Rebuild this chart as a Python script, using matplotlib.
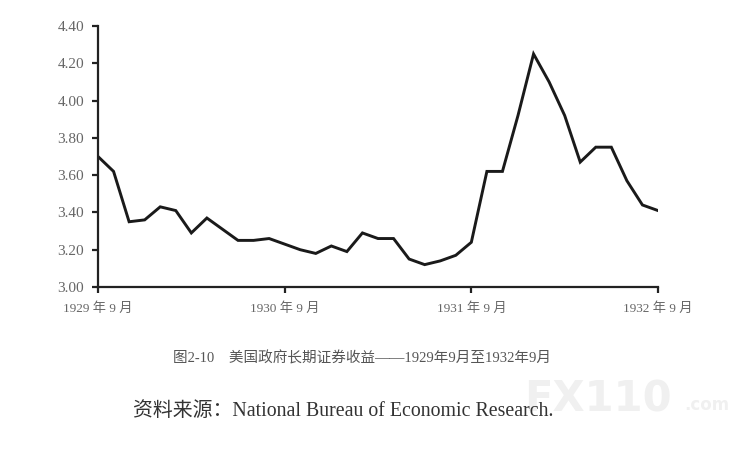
import matplotlib
matplotlib.use("Agg")
import matplotlib.pyplot as plt
import numpy as np

# monthly yield, 1929-09 .. 1932-09
yields = [3.70, 3.62, 3.35, 3.36, 3.43, 3.41, 3.29, 3.37, 3.31, 3.25,
          3.25, 3.26, 3.23, 3.20, 3.18, 3.22, 3.19, 3.29, 3.26, 3.26,
          3.15, 3.12, 3.14, 3.17, 3.24, 3.62, 3.62, 3.92, 4.25, 4.10,
          3.92, 3.67, 3.75, 3.75, 3.57, 3.44, 3.41]
xtick_pos = [0, 12, 24, 36]
xtick_labels = ["1929 年 9 月", "1930 年 9 月", "1931 年 9 月", "1932 年 9 月"]
yticks = [3.00, 3.20, 3.40, 3.60, 3.80, 4.00, 4.20, 4.40]

caption = "图2-10　美国政府长期证券收益——1929年9月至1932年9月"
source = "资料来源：National Bureau of Economic Research."

fams = ["Liberation Serif", "Noto Sans CJK SC"]
plt.rcParams["font.family"] = fams

fig = plt.figure(figsize=(7.54, 4.49), dpi=100)
ax = fig.add_axes([98/754, 1-287/449, 560/754, 261/449])

months = np.arange(len(yields))
ax.plot(months, yields, color="#1a1a1a", lw=2.1, solid_joinstyle="miter")

ax.set_xlim(0, 36)
ax.set_ylim(3.0, 4.4)
ax.set_yticks(yticks)
ax.set_yticklabels(["%.2f" % v for v in yticks])
ax.set_xticks(xtick_pos)
ax.set_xticklabels(xtick_labels)
for s in ["top", "right"]:
    ax.spines[s].set_visible(False)
for s in ["left", "bottom"]:
    ax.spines[s].set_linewidth(1.6)
    ax.spines[s].set_color("#222222")
ax.tick_params(axis="both", direction="out", length=4, width=1.6, color="#222222",
               labelcolor="#666666", pad=6)
ax.tick_params(axis="y", labelsize=11)
ax.tick_params(axis="x", labelsize=9.5, pad=7)

fig.text(362/754, 1-358/449, caption, ha="center", va="center",
         fontsize=10.5, color="#555555", family=fams)
fig.text(133/754, 1-412/449, source, ha="left", va="center",
         fontsize=14.3, color="#333333", family=fams)
# faint watermark
fig.text(598/754, 1-400/449, "FX110", ha="center", va="center", fontsize=30,
         fontweight="bold", color="#f0f0f0", family="DejaVu Sans", zorder=0)
fig.text(684/754, 1-405/449, ".com", ha="left", va="center", fontsize=12,
         fontweight="bold", color="#f0f0f0", family="DejaVu Sans", zorder=0)

fig.savefig("out.png", dpi=100)
